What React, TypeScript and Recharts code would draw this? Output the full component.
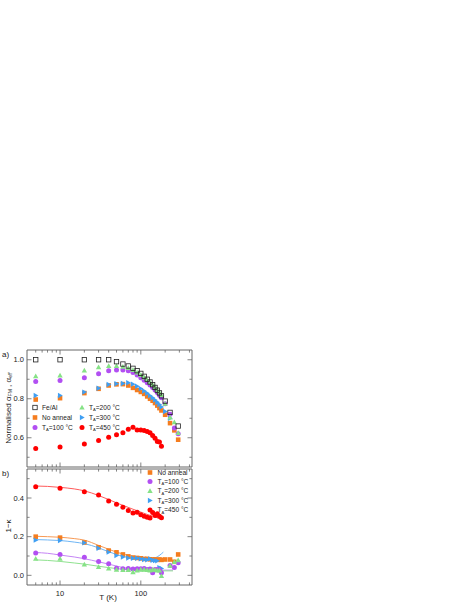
import React from 'react';
import { ComposedChart, Scatter, Line, XAxis, YAxis } from 'recharts';

const FONT = '"Liberation Sans", Arial, sans-serif';
const AXIS = '#666';

// ---------- panel a data ----------
const T_A = [5, 10, 20, 30, 40, 50, 60, 70, 80, 90, 100, 110, 120, 130, 140, 150, 160, 170, 180, 200, 230, 260, 290];
const T_A_FEAL = [5, 10, 20, 30, 40, 50, 60, 70, 80, 90, 100, 110, 120, 130, 140, 150, 160, 170, 180, 200, 230, 290];
const T_A_BLUE = [5, 10, 20, 30, 40, 50, 60, 70, 80, 90, 100, 110, 120, 130, 140, 150, 160, 170, 180, 200, 230];
const T_A_RED = [5, 10, 20, 30, 40, 50, 60, 70, 80, 90, 100, 110, 120, 130, 140, 150, 160, 170, 180];

const A_FEAL = [1.0, 1.0, 1.0, 1.0, 1.0, 0.99, 0.978, 0.968, 0.956, 0.944, 0.93, 0.915, 0.9, 0.886, 0.872, 0.858, 0.844, 0.83, 0.815, 0.788, 0.73, 0.66];
const A_NOANNEAL = [0.796, 0.803, 0.829, 0.851, 0.868, 0.874, 0.875, 0.868, 0.856, 0.845, 0.835, 0.825, 0.812, 0.8, 0.79, 0.778, 0.765, 0.752, 0.74, 0.718, 0.675, 0.638, 0.59];
const A_T100 = [0.889, 0.894, 0.908, 0.928, 0.943, 0.948, 0.948, 0.944, 0.935, 0.922, 0.908, 0.895, 0.882, 0.87, 0.858, 0.845, 0.832, 0.818, 0.805, 0.775, 0.72, 0.65, 0.62];
const A_T200 = [0.916, 0.92, 0.945, 0.962, 0.968, 0.968, 0.965, 0.958, 0.948, 0.935, 0.922, 0.91, 0.897, 0.884, 0.872, 0.86, 0.846, 0.832, 0.82, 0.775, 0.705, 0.68, 0.625];
const A_T300 = [0.817, 0.817, 0.834, 0.854, 0.873, 0.877, 0.878, 0.882, 0.875, 0.864, 0.852, 0.84, 0.828, 0.816, 0.805, 0.794, 0.782, 0.77, 0.758, 0.735, 0.7];
const A_T450 = [0.545, 0.552, 0.568, 0.586, 0.603, 0.615, 0.626, 0.643, 0.654, 0.64, 0.64, 0.637, 0.632, 0.626, 0.612, 0.597, 0.581, 0.578, 0.556];

// ---------- panel b data ----------
const T_B = [5, 10, 20, 30, 40, 50, 60, 70, 80, 90, 100, 110, 120, 130, 140, 150, 160, 170, 180, 200, 230, 260, 290];
const T_B_SHORT = [5, 10, 20, 30, 40, 50, 60, 70, 80, 90, 100, 110, 120, 130, 140, 150, 160, 170, 180];
const T_B_LONG = [5, 10, 20, 30, 40, 50, 60, 70, 80, 90, 100, 110, 120, 130, 140, 150, 160, 170, 180, 230, 260, 290];

const B_NOANNEAL = [0.2, 0.195, 0.17, 0.145, 0.128, 0.119, 0.108, 0.098, 0.092, 0.09, 0.088, 0.085, 0.085, 0.083, 0.082, 0.082, 0.08, 0.082, 0.08, 0.082, 0.082, 0.07, 0.108];
const B_T100 = [0.116, 0.108, 0.094, 0.072, 0.06, 0.036, 0.034, 0.035, 0.033, 0.034, 0.034, 0.035, 0.03, 0.033, 0.014, 0.03, 0.03, 0.028, 0.014, 0.051, 0.04, 0.065];
const B_T200 = [0.086, 0.086, 0.056, 0.043, 0.036, 0.03, 0.028, 0.028, 0.017, 0.025, 0.03, 0.03, 0.028, 0.025, 0.03, 0.028, 0.025, 0.025, -0.003, 0.05, 0.069, 0.078];
const B_T300 = [0.182, 0.18, 0.168, 0.14, 0.12, 0.102, 0.095, 0.09, 0.088, 0.088, 0.085, 0.082, 0.08, 0.085, 0.078, 0.076, 0.075, 0.04, 0.035];
const B_T450 = [0.458, 0.45, 0.432, 0.415, 0.385, 0.368, 0.352, 0.335, 0.322, 0.326, 0.313, 0.305, 0.3, 0.296, 0.325, 0.31, 0.318, 0.305, 0.298];

// fitted curves (panel b)
const T_FIT = [5, 7, 10, 15, 20, 30, 40, 50, 60, 80, 100, 120, 150, 180];
const T_FIT_BLUE = [5, 7, 10, 15, 20, 30, 40, 50, 60, 80, 100, 120, 150, 190];
const T_FIT_LONG = [5, 7, 10, 15, 20, 30, 40, 50, 60, 80, 100, 120, 150, 180, 250];
const FIT_T450 = [0.462, 0.46, 0.455, 0.447, 0.437, 0.413, 0.392, 0.375, 0.362, 0.342, 0.327, 0.315, 0.302, 0.29];
const FIT_NOANNEAL = [0.202, 0.2, 0.197, 0.19, 0.182, 0.155, 0.135, 0.12, 0.11, 0.098, 0.092, 0.088, 0.085, 0.083];
const FIT_T300 = [0.185, 0.183, 0.18, 0.172, 0.164, 0.142, 0.122, 0.108, 0.098, 0.088, 0.084, 0.083, 0.09, 0.12];
const FIT_T100 = [0.118, 0.114, 0.105, 0.095, 0.086, 0.07, 0.058, 0.048, 0.04, 0.033, 0.03, 0.028, 0.027, 0.027, 0.027];
const FIT_T200 = [0.08, 0.077, 0.072, 0.064, 0.058, 0.047, 0.04, 0.035, 0.031, 0.027, 0.025, 0.024, 0.023, 0.023, 0.023];

// ---------- axes ----------
const X_TICKS = [5, 6, 7, 8, 9, 10, 20, 30, 40, 50, 60, 70, 80, 90, 100, 200, 300, 400];
const X_MAJOR = [10, 100];
const X_DOMAIN: [number, number] = [3.9, 430];
const YA_TICKS = [0.5, 0.6, 0.7, 0.8, 0.9, 1.0];
const YA_DOMAIN: [number, number] = [0.45, 1.05];
const YB_TICKS = [0.0, 0.1, 0.2, 0.3, 0.4, 0.5];
const YB_DOMAIN: [number, number] = [-0.05, 0.55];

const C_ORANGE = '#f57d1f';
const C_PURPLE = '#b24ff2';
const C_GREEN = '#86e286';
const C_BLUE = '#3f9ff3';
const C_RED = '#ff0000';
const C_BLACK = '#222';

const zip = (ts: number[], vs: number[]) => ts.map((T, i) => ({ T, v: vs[i] }));

// ---------- marker shapes ----------
const openSquare = (c: string) => (p: any) => (
  <rect x={p.cx - 2.2} y={p.cy - 2.2} width={4.4} height={4.4} fill="none" stroke={c} strokeWidth={0.8} />
);
const square = (c: string) => (p: any) => (
  <rect x={p.cx - 2.3} y={p.cy - 2.3} width={4.6} height={4.6} fill={c} />
);
const circle = (c: string) => (p: any) => <circle cx={p.cx} cy={p.cy} r={2.5} fill={c} />;
const triUp = (c: string) => (p: any) => (
  <polygon points={`${p.cx},${p.cy - 2.7} ${p.cx + 2.7},${p.cy + 2.1} ${p.cx - 2.7},${p.cy + 2.1}`} fill={c} />
);
const triRight = (c: string) => (p: any) => (
  <polygon points={`${p.cx + 2.7},${p.cy} ${p.cx - 2.1},${p.cy - 2.7} ${p.cx - 2.1},${p.cy + 2.7}`} fill={c} />
);

// ---------- ticks ----------
const isMajor = (v: number, majors: number[]) => majors.some((m) => Math.abs(m - v) < 1e-9);

const xTick = (side: 'bottom' | 'top', label: boolean) => (p: any) => {
  const v = p.payload.value;
  const major = isMajor(v, X_MAJOR);
  const len = major ? 4.5 : 2.6;
  const dir = side === 'bottom' ? -1 : 1;
  return (
    <g>
      <line x1={p.x} x2={p.x} y1={p.y} y2={p.y + dir * len} stroke={AXIS} strokeWidth={0.8} />
      {label && major ? (
        <text x={p.x} y={p.y + 11} textAnchor="middle" fontSize={7.5} fontFamily={FONT} fill="#222">
          {v}
        </text>
      ) : null}
    </g>
  );
};

const yTick = (side: 'left' | 'right', majors: number[], label: boolean) => (p: any) => {
  const v = p.payload.value;
  const major = isMajor(v, majors);
  const len = major ? 4.5 : 2.6;
  const dir = side === 'left' ? 1 : -1;
  return (
    <g>
      <line x1={p.x} x2={p.x + dir * len} y1={p.y} y2={p.y} stroke={AXIS} strokeWidth={0.8} />
      {label && major ? (
        <text x={p.x - 3} y={p.y + 2.7} textAnchor="end" fontSize={7.5} fontFamily={FONT} fill="#222">
          {Number(v).toFixed(1)}
        </text>
      ) : null}
    </g>
  );
};

const W = 469;
const H = 607;
const PL = 27;
const PR = 192;

const axisCommon = { tickSize: 0, tickMargin: 0, tickLine: false, stroke: AXIS, interval: 0 as const, allowDataOverflow: true };

function PanelA() {
  const margin = { top: 350 - 1, left: PL - 1, right: W - PR - 1, bottom: H - 467 - 1 };
  return (
    <ComposedChart width={W} height={H} margin={margin}>
      <XAxis xAxisId="b" dataKey="T" type="number" scale="log" domain={X_DOMAIN} ticks={X_TICKS}
        orientation="bottom" height={1} {...axisCommon} tick={xTick('bottom', false)} />
      <XAxis xAxisId="t" dataKey="T" type="number" scale="log" domain={X_DOMAIN} ticks={X_TICKS}
        orientation="top" height={1} {...axisCommon} tick={xTick('top', false)} />
      <YAxis yAxisId="l" dataKey="v" type="number" domain={YA_DOMAIN} ticks={YA_TICKS}
        orientation="left" width={1} {...axisCommon} tick={yTick('left', [0.6, 0.8, 1.0], true)} />
      <YAxis yAxisId="r" dataKey="v" type="number" domain={YA_DOMAIN} ticks={YA_TICKS}
        orientation="right" width={1} {...axisCommon} tick={yTick('right', [0.6, 0.8, 1.0], false)} />
      <Scatter xAxisId="b" yAxisId="l" data={zip(T_A_RED, A_T450)} shape={circle(C_RED)} isAnimationActive={false} />
      <Scatter xAxisId="b" yAxisId="l" data={zip(T_A, A_NOANNEAL)} shape={square(C_ORANGE)} isAnimationActive={false} />
      <Scatter xAxisId="b" yAxisId="l" data={zip(T_A_BLUE, A_T300)} shape={triRight(C_BLUE)} isAnimationActive={false} />
      <Scatter xAxisId="b" yAxisId="l" data={zip(T_A, A_T100)} shape={circle(C_PURPLE)} isAnimationActive={false} />
      <Scatter xAxisId="b" yAxisId="l" data={zip(T_A, A_T200)} shape={triUp(C_GREEN)} isAnimationActive={false} />
      <Scatter xAxisId="b" yAxisId="l" data={zip(T_A_FEAL, A_FEAL)} shape={openSquare(C_BLACK)} isAnimationActive={false} />
    </ComposedChart>
  );
}

function PanelB() {
  const margin = { top: 469 - 1, left: PL - 1, right: W - PR - 1, bottom: H - 585 - 1 };
  const fit = (ts: number[], vs: number[], c: string) => (
    <Line xAxisId="b" yAxisId="l" data={zip(ts, vs)} dataKey="v" type="monotone" dot={false} stroke={c}
      strokeWidth={1} isAnimationActive={false} />
  );
  return (
    <ComposedChart width={W} height={H} margin={margin}>
      <XAxis xAxisId="b" dataKey="T" type="number" scale="log" domain={X_DOMAIN} ticks={X_TICKS}
        orientation="bottom" height={1} {...axisCommon} tick={xTick('bottom', true)} />
      <XAxis xAxisId="t" dataKey="T" type="number" scale="log" domain={X_DOMAIN} ticks={X_TICKS}
        orientation="top" height={1} {...axisCommon} tick={xTick('top', false)} />
      <YAxis yAxisId="l" dataKey="v" type="number" domain={YB_DOMAIN} ticks={YB_TICKS}
        orientation="left" width={1} {...axisCommon} tick={yTick('left', [0.0, 0.2, 0.4], true)} />
      <YAxis yAxisId="r" dataKey="v" type="number" domain={YB_DOMAIN} ticks={YB_TICKS}
        orientation="right" width={1} {...axisCommon} tick={yTick('right', [0.0, 0.2, 0.4], false)} />
      <Scatter xAxisId="b" yAxisId="l" data={zip(T_B_SHORT, B_T450)} shape={circle(C_RED)} isAnimationActive={false} />
      <Scatter xAxisId="b" yAxisId="l" data={zip(T_B, B_NOANNEAL)} shape={square(C_ORANGE)} isAnimationActive={false} />
      <Scatter xAxisId="b" yAxisId="l" data={zip(T_B_SHORT, B_T300)} shape={triRight(C_BLUE)} isAnimationActive={false} />
      <Scatter xAxisId="b" yAxisId="l" data={zip(T_B_LONG, B_T100)} shape={circle(C_PURPLE)} isAnimationActive={false} />
      <Scatter xAxisId="b" yAxisId="l" data={zip(T_B_LONG, B_T200)} shape={triUp(C_GREEN)} isAnimationActive={false} />
      {fit(T_FIT, FIT_T450, '#ff5a5a')}
      {fit(T_FIT, FIT_NOANNEAL, '#f89a55')}
      {fit(T_FIT_BLUE, FIT_T300, '#6fb6f5')}
      {fit(T_FIT_LONG, FIT_T100, '#c585f5')}
      {fit(T_FIT_LONG, FIT_T200, '#8fe28f')}
    </ComposedChart>
  );
}

const sub = (main: string, s: string, rest: string, fs: number) => (
  <>
    <tspan>{main}</tspan>
    <tspan fontSize={fs * 0.62} dy={fs * 0.2}>{s}</tspan>
    <tspan dy={-fs * 0.2}>{rest}</tspan>
  </>
);

function Overlay() {
  const fs = 6.6;
  const lt = (x: number, y: number, content: any) => (
    <text x={x} y={y + 2.3} fontSize={fs} fontFamily={FONT} fill="#222">{content}</text>
  );
  return (
    <svg width={W} height={H} style={{ position: 'absolute', left: 0, top: 0, pointerEvents: 'none' }}>
      <text x={2} y={357} fontSize={8} fontFamily={FONT} fill="#222">a)</text>
      <text x={2} y={476} fontSize={8} fontFamily={FONT} fill="#222">b)</text>
      <text transform="translate(10.5,408) rotate(-90)" textAnchor="middle" fontSize={8} fontFamily={FONT} fill="#222">
        <tspan>Normalised α</tspan>
        <tspan fontSize={5} dy={1.6}>FM</tspan>
        <tspan dy={-1.6}> , α</tspan>
        <tspan fontSize={5} dy={1.6}>eff</tspan>
      </text>
      <text transform="translate(10.5,526) rotate(-90)" textAnchor="middle" fontSize={8} fontFamily={FONT} fill="#222">1−κ</text>
      <text x={108} y={600} textAnchor="middle" fontSize={8} fontFamily={FONT} fill="#222">T (K)</text>

      {openSquare(C_BLACK)({ cx: 35, cy: 407.5 })}
      {lt(42, 407.5, 'Fe/Al')}
      {square(C_ORANGE)({ cx: 35, cy: 417.5 })}
      {lt(42, 417.5, 'No anneal')}
      {circle(C_PURPLE)({ cx: 35, cy: 427.5 })}
      {lt(42, 427.5, sub('T', 'A', '=100 °C', fs))}
      {triUp(C_GREEN)({ cx: 82, cy: 407.5 })}
      {lt(89, 407.5, sub('T', 'A', '=200 °C', fs))}
      {triRight(C_BLUE)({ cx: 82, cy: 417.5 })}
      {lt(89, 417.5, sub('T', 'A', '=300 °C', fs))}
      {circle(C_RED)({ cx: 82, cy: 427.5 })}
      {lt(89, 427.5, sub('T', 'A', '=450 °C', fs))}

      {square(C_ORANGE)({ cx: 150, cy: 472.5 })}
      {lt(157.5, 472.5, 'No anneal')}
      {circle(C_PURPLE)({ cx: 150, cy: 481.5 })}
      {lt(157.5, 481.5, sub('T', 'A', '=100 °C', fs))}
      {triUp(C_GREEN)({ cx: 150, cy: 491 })}
      {lt(157.5, 491, sub('T', 'A', '=200 °C', fs))}
      {triRight(C_BLUE)({ cx: 150, cy: 500.5 })}
      {lt(157.5, 500.5, sub('T', 'A', '=300 °C', fs))}
      {circle(C_RED)({ cx: 150, cy: 510 })}
      {lt(157.5, 510, sub('T', 'A', '=450 °C', fs))}
    </svg>
  );
}

export default function App() {
  return (
    <div style={{ position: 'absolute', left: 0, top: 0, width: W, height: H, background: '#fff' }}>
      <div style={{ position: 'absolute', left: 0, top: 0 }}>
        <PanelA />
      </div>
      <div style={{ position: 'absolute', left: 0, top: 0 }}>
        <PanelB />
      </div>
      <Overlay />
    </div>
  );
}
